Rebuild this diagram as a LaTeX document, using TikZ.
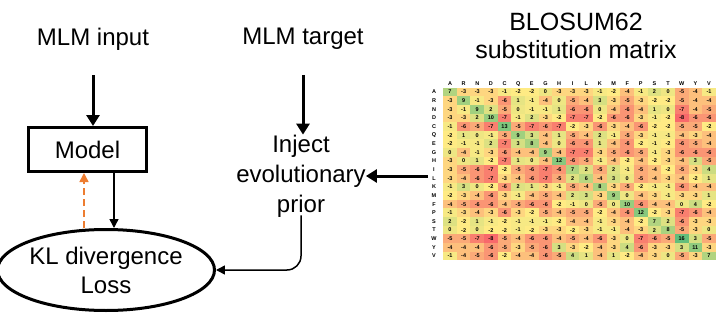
\documentclass[tikz,border=0pt]{standalone}
\usepackage{fontspec}
\setmainfont{Liberation Sans}
\usetikzlibrary{arrows.meta,shapes.geometric}
\definecolor{hmred}{HTML}{F8696B}
\definecolor{hmyel}{HTML}{FFEB84}
\definecolor{hmgrn}{HTML}{63BE7B}
\definecolor{bporange}{HTML}{ED7D31}
\begin{document}
\begin{tikzpicture}[x=1pt,y=-1pt,
    lbl/.style={align=center,inner sep=0pt,font=\fontsize{24}{30}\selectfont},
    box/.style={draw,line width=3pt,minimum width=118pt,minimum height=44pt,font=\fontsize{24}{30}\selectfont},
    loss/.style={draw,ellipse,line width=3pt,minimum width=205pt,minimum height=81pt,inner sep=0pt,align=center,font=\fontsize{24}{29}\selectfont},
    thk/.style={-{Triangle[length=11pt,width=13pt]},line width=3pt},
    arr/.style={-{Triangle[length=9pt,width=9pt]},line width=1.5pt},
    cell/.style={minimum width=13.65pt,minimum height=8.65pt,inner sep=0pt,font=\fontsize{5.5}{6}\bfseries\selectfont},
    hdr/.style={inner sep=0pt,font=\fontsize{5.5}{6}\bfseries\selectfont}
]
\useasboundingbox (0,0) rectangle (727,318);
\node[lbl] (input) at (93,39) {MLM input};
\node[lbl] (target) at (303,39) {MLM target};
\node[lbl,font=\fontsize{25}{28}\selectfont] (title) at (576,36) {BLOSUM62\\substitution matrix};
\node[box] (model) at (87.5,149.5) {Model};
\node[loss] (kl) at (106,270) {KL divergence\\Loss};
\node[lbl] (inject) at (301,176) {Inject\\evolutionary\\prior};
% heat map
\foreach \aa [count=\j] in {A,R,N,D,C,Q,E,G,H,I,L,K,M,F,P,S,T,W,Y,V} {
  \node[hdr] (ch-\j) at ({450+(\j-1)*13.63},84) {\aa};
  \node[hdr] (rl-\j) at (434,{92+(\j-1)*8.63}) {\aa};
}
\foreach \rowvals [count=\i] in {
  {7,-3,-3,-3,-1,-2,-2,0,-3,-3,-3,-1,-2,-4,-1,2,0,-5,-4,-1},
  {-3,9,-1,-3,-6,1,-1,-4,0,-5,-4,3,-3,-5,-3,-2,-2,-5,-4,-4},
  {-3,-1,9,2,-5,0,-1,-1,1,-6,-6,0,-4,-6,-4,1,0,-7,-4,-5},
  {-3,-3,2,10,-7,-1,2,-3,-2,-7,-7,-2,-6,-6,-3,-1,-2,-8,-6,-6},
  {-1,-6,-5,-7,13,-5,-7,-6,-7,-2,-3,-6,-3,-4,-6,-2,-2,-5,-5,-2},
  {-2,1,0,-1,-5,9,3,-4,1,-5,-4,2,-1,-5,-3,-1,-1,-4,-3,-4},
  {-2,-1,-1,2,-7,3,8,-4,0,-6,-6,1,-4,-6,-2,-1,-2,-6,-5,-4},
  {0,-4,-1,-3,-6,-4,-4,9,-4,-7,-7,-3,-5,-6,-5,-1,-3,-6,-6,-6},
  {-3,0,1,-2,-7,1,0,-4,12,-6,-5,-1,-4,-2,-4,-2,-3,-4,3,-5},
  {-3,-5,-6,-7,-2,-5,-6,-7,-6,7,2,-5,2,-1,-5,-4,-2,-5,-3,4},
  {-3,-4,-6,-7,-3,-4,-6,-7,-5,2,6,-4,3,0,-5,-4,-3,-4,-2,1},
  {-1,3,0,-2,-6,2,1,-3,-1,-5,-4,8,-3,-5,-2,-1,-1,-6,-4,-4},
  {-2,-3,-4,-6,-3,-1,-4,-5,-4,2,3,-3,9,0,-4,-3,-1,-3,-3,1},
  {-4,-5,-6,-6,-4,-5,-6,-6,-2,-1,0,-5,0,10,-6,-4,-4,0,4,-2},
  {-1,-3,-4,-3,-6,-3,-2,-5,-4,-5,-5,-2,-4,-6,12,-2,-3,-7,-6,-4},
  {2,-2,1,-1,-2,-1,-1,-1,-2,-4,-4,-1,-3,-4,-2,7,2,-6,-3,-3},
  {0,-2,0,-2,-2,-1,-2,-3,-3,-2,-3,-1,-1,-4,-3,2,8,-5,-3,0},
  {-5,-5,-7,-8,-5,-4,-6,-6,-4,-5,-4,-6,-3,0,-7,-6,-5,16,3,-5},
  {-4,-4,-4,-6,-5,-3,-5,-6,3,-3,-2,-4,-3,4,-6,-3,-3,3,11,-3},
  {-1,-4,-5,-6,-2,-4,-4,-6,-5,4,1,-4,1,-2,-4,-3,0,-5,-3,7}} {
  \foreach \v [count=\j] in \rowvals {
    \ifnum\v<-2
      \pgfmathtruncatemacro\pct{(-2-\v)*100/6}
      \colorlet{cellc}{hmred!\pct!hmyel}
    \else
      \pgfmathtruncatemacro\pct{(\v+2)*100/18}
      \colorlet{cellc}{hmgrn!\pct!hmyel}
    \fi
    \node[cell,fill=cellc] (c-\i-\j) at ({450+(\j-1)*13.63},{92+(\i-1)*8.63}) {\v};
  }
}
\coordinate (mtx) at (428,176);
% connectors
\draw[thk,shorten <=25pt] (input.south) -- (model.north -| input.south);
\draw[thk,shorten <=25pt] (target.south) -- (inject.north -| target.south);
\draw[thk] (mtx) -- (inject.east);
\draw[arr] (model.south -| 114,0) -- (kl.north -| 114,0);
\draw[arr,bporange,dashed,dash pattern=on 7pt off 4pt] (kl.north -| 84,0) -- (model.south -| 84,0);
\draw[arr,rounded corners=14pt] ([yshift=2pt]inject.south) |- (kl.east);
\end{tikzpicture}
\end{document}
